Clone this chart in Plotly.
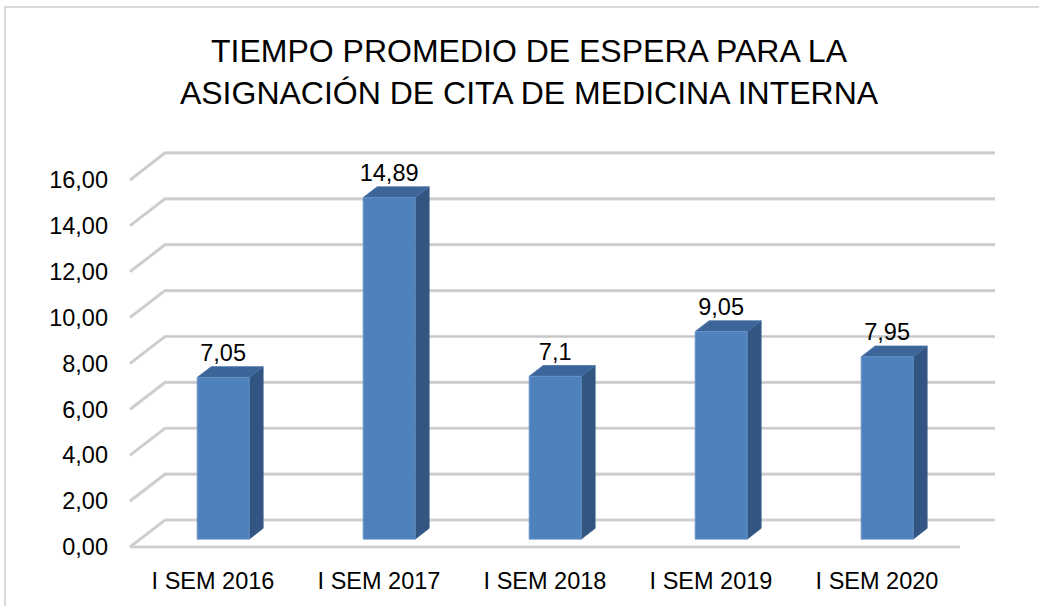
import plotly.graph_objects as go

categories = ["I SEM 2016", "I SEM 2017", "I SEM 2018", "I SEM 2019", "I SEM 2020"]
values = [7.05, 14.89, 7.1, 9.05, 7.95]
value_labels = ["7,05", "14,89", "7,1", "9,05", "7,95"]
y_ticks = [0, 2, 4, 6, 8, 10, 12, 14, 16]
y_tick_labels = ["0,00", "2,00", "4,00", "6,00", "8,00", "10,00", "12,00", "14,00", "16,00"]
title_text = "TIEMPO PROMEDIO DE ESPERA PARA LA<br>ASIGNACIÓN DE CITA DE MEDICINA INTERNA"

FONT = "Liberation Sans"
W, H = 1039, 606
ML, MR, MT, MB = 120, 30, 140, 50
PX_X = 166.0      # pixels per category
PX_Y = 22.94      # pixels per value unit
X_FRONT_LEFT_PX = 130
Y_ZERO_PX = 547
plot_w = W - ML - MR
plot_h = H - MT - MB
xmin = -0.5 - (X_FRONT_LEFT_PX - ML) / PX_X
xmax = xmin + plot_w / PX_X
ymin = -((H - MB) - Y_ZERO_PX) / PX_Y
ymax = ymin + plot_h / PX_Y

# 3D depth offsets (in axis units)
DX = 35 / PX_X
DY = 27 / PX_Y
BAR_F = 0.29   # bar front depth fraction
BAR_D = 0.40   # bar depth fraction
BAR_W = 52 / PX_X

n = len(categories)
fig = go.Figure()

# walls / gridlines
gx, gy = [], []
for v in y_ticks:
    gx += [-0.5, -0.5 + DX, n - 0.5 + DX, None]
    gy += [v, v + DY, v + DY, None]
gx += [-0.5, n - 0.5, None]
gy += [0, 0, None]
fig.add_trace(go.Scatter(x=gx, y=gy, mode="lines",
                         line=dict(color="#d6d6d6", width=3.2),
                         hoverinfo="skip", showlegend=False))
fig.add_trace(go.Scatter(x=gx, y=gy, mode="lines",
                         line=dict(color="#c8c8c8", width=1.2),
                         hoverinfo="skip", showlegend=False))

front_x, front_y, side_x, side_y, top_x, top_y = [], [], [], [], [], []
lab_x, lab_y = [], []
for i, v in enumerate(values):
    cx = i + BAR_F * DX
    xl, xr = cx - BAR_W / 2, cx + BAR_W / 2
    y0 = BAR_F * DY
    y1 = v + BAR_F * DY
    ox, oy = BAR_D * DX, BAR_D * DY
    front_x += [xl, xr, xr, xl, xl, None]
    front_y += [y0, y0, y1, y1, y0, None]
    side_x += [xr, xr + ox, xr + ox, xr, xr, None]
    side_y += [y0, y0 + oy, y1 + oy, y1, y0, None]
    top_x += [xl, xr, xr + ox, xl + ox, xl, None]
    top_y += [y1, y1, y1 + oy, y1 + oy, y1, None]
    lab_x.append(cx)
    lab_y.append(y1 + oy)

fig.add_trace(go.Scatter(x=side_x, y=side_y, mode="lines", fill="toself",
                         fillcolor="#325581", line=dict(color="#3a5f8e", width=0.8),
                         hoverinfo="skip", showlegend=False))
fig.add_trace(go.Scatter(x=top_x, y=top_y, mode="lines", fill="toself",
                         fillcolor="#3c659a", line=dict(color="#4a74a8", width=0.8),
                         hoverinfo="skip", showlegend=False))
fig.add_trace(go.Scatter(x=front_x, y=front_y, mode="lines", fill="toself",
                         fillcolor="#4f81bd", line=dict(color="#6b95c8", width=0.8),
                         hoverinfo="skip", showlegend=False))
fig.add_trace(go.Scatter(x=lab_x, y=lab_y, mode="text", text=value_labels,
                         textposition="top center",
                         textfont=dict(family=FONT, size=23.5, color="#000000"),
                         hoverinfo="skip", showlegend=False))

fig.update_layout(
    width=W, height=H,
    margin=dict(l=ML, r=MR, t=MT, b=MB),
    paper_bgcolor="white", plot_bgcolor="rgba(0,0,0,0)",
    title=dict(text=title_text, x=529 / W, xanchor="center",
               y=1 - 62 / H, yanchor="middle", yref="container",
               font=dict(family=FONT, size=32, color="#000000")),
    xaxis=dict(range=[xmin, xmax], tickvals=list(range(n)), ticktext=categories,
               showgrid=False, zeroline=False, showline=False, ticks="",
               tickfont=dict(family=FONT, size=23.5, color="#000000"),
               ticklabelstandoff=8, fixedrange=True),
    yaxis=dict(range=[ymin, ymax], tickvals=y_ticks, ticktext=y_tick_labels,
               showgrid=False, zeroline=False, showline=False, ticks="",
               tickfont=dict(family=FONT, size=23.5, color="#000000"),
               ticklabelstandoff=11, fixedrange=True),
    shapes=[dict(type="rect", xref="paper", yref="paper",
                 x0=(5 - ML) / plot_w, x1=(W + 40 - ML) / plot_w,
                 y0=-(MB + 40) / plot_h, y1=(H - 7 - MB) / plot_h,
                 line=dict(color="#d9d9d9", width=2), fillcolor="rgba(0,0,0,0)",
                 layer="below")],
)

fig.write_html("out.html", config={"displayModeBar": False},
               post_script="document.body.style.margin='0';")
